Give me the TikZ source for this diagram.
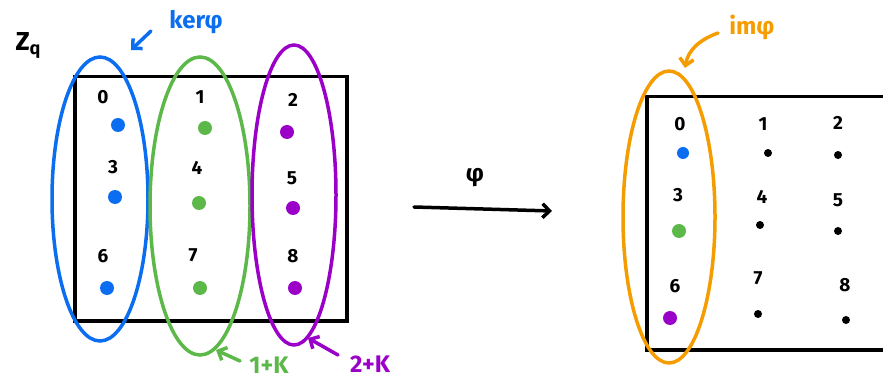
\documentclass[tikz,border=0pt]{standalone}
\usepackage{fontspec}
\setmainfont{Fira Sans}
\usetikzlibrary{arrows.meta,shapes.geometric}
\definecolor{cblue}{HTML}{0B6EF0}
\definecolor{cgreen}{HTML}{5CB848}
\definecolor{cpurple}{HTML}{9B00C8}
\definecolor{corange}{HTML}{F59C00}
\begin{document}
\begin{tikzpicture}[x=1pt,y=-1pt,
  num/.style={font=\fontsize{19}{19}\selectfont\bfseries, inner sep=0pt},
  lab/.style={font=\fontsize{24}{24}\selectfont\bfseries, inner sep=0pt},
  dotb/.style={circle, fill=#1, inner sep=0pt, minimum size=14pt},
  dots/.style={circle, fill=black, inner sep=0pt, minimum size=8pt},
  ring/.style={draw=#1, line width=3.5pt, ellipse, inner sep=0pt},
  box/.style={draw=black, line width=3.5pt},
  pointer/.style={line width=3.5pt, -{Straight Barb[length=7pt,width=14pt]}, line cap=round}]
\useasboundingbox (0,0) rectangle (883,379);
% left box
\node[box, minimum width=272pt, minimum height=244pt, anchor=north west] (L) at (73,75) {};
% right box
\node[box, minimum width=260pt, minimum height=253pt, anchor=north west] (R) at (645,95) {};
% left numbers
\node[num] (n0) at (103,97) {0};
\node[num] (n1) at (200,97) {1};
\node[num] (n2) at (293,100) {2};
\node[num] (n3) at (113,167) {3};
\node[num] (n4) at (197,168) {4};
\node[num] (n5) at (292,178) {5};
\node[num] (n6) at (103,256) {6};
\node[num] (n7) at (193,255) {7};
\node[num] (n8) at (293,256) {8};
\node[dotb=cblue] (d0) at (118,125) {};
\node[dotb=cgreen] (d1) at (205,128) {};
\node[dotb=cpurple] (d2) at (287,132) {};
\node[dotb=cblue] (d3) at (115,197) {};
\node[dotb=cgreen] (d4) at (199,203) {};
\node[dotb=cpurple] (d5) at (293,208) {};
\node[dotb=cblue] (d6) at (107,288) {};
\node[dotb=cgreen] (d7) at (200,288) {};
\node[dotb=cpurple] (d8) at (295,288) {};
% ellipses
\node[ring=cblue, minimum width=96pt, minimum height=284pt] (eb) at (100,199) {};
\node[ring=cgreen, minimum width=100pt, minimum height=298pt] (eg) at (200,206) {};
\node[ring=cpurple, minimum width=84pt, minimum height=300pt] (ep) at (294,195) {};
% labels left
\node[lab, font=\fontsize{26}{26}\selectfont\bfseries] (zq) at (28,45) {Z\raisebox{-4pt}{\fontsize{18}{18}\selectfont q}};
\node[lab, text=cblue] (ker) at (196,22) {kerφ};
\coordinate (kerA) at (151,31);
\coordinate (kerB) at (131,50);
\draw[pointer, cblue] (kerA) -- (kerB);
\node[lab, text=cgreen] (k1) at (269,365) {1+K};
\coordinate (k1A) at (240,361);
\coordinate (k1B) at (216,350);
\draw[pointer, cgreen] (k1A) -- (k1B);
\node[lab, text=cpurple] (k2) at (370,364) {2+K};
\coordinate (k2A) at (338,355);
\coordinate (k2B) at (308,338);
\draw[pointer, cpurple] (k2A) -- (k2B);
% map arrow
\coordinate (mA) at (414,207);
\coordinate (mB) at (552,211);
\draw[pointer, black] (mA) -- (mB);
\node[lab] (phi) at (475,178) {φ};
% right numbers
\node[num] (r0) at (680,124) {0};
\node[num] (r1) at (763,124) {1};
\node[num] (r2) at (838,123) {2};
\node[num] (r3) at (678,195) {3};
\node[num] (r4) at (762,197) {4};
\node[num] (r5) at (838,200) {5};
\node[num] (r6) at (675,286) {6};
\node[num] (r7) at (758,278) {7};
\node[num] (r8) at (845,285) {8};
\node[dotb=cblue, minimum size=12pt] (s0) at (683,153) {};
\node[dots] (s1) at (768,153) {};
\node[dots] (s2) at (838,155) {};
\node[dotb=cgreen] (s3) at (679,231) {};
\node[dots] (s4) at (760,225) {};
\node[dots] (s5) at (838,231) {};
\node[dotb=cpurple] (s6) at (670,318) {};
\node[dots] (s7) at (758,314) {};
\node[dots] (s8) at (846,320) {};
\node[ring=corange, minimum width=92pt, minimum height=292pt] (eo) at (669,217) {};
\node[lab, text=corange] (im) at (752,27) {imφ};
\coordinate (imA) at (718,33);
\coordinate (imB) at (685,68);
\draw[pointer, corange] (imA) to[out=200, in=80] (imB);
\end{tikzpicture}
\end{document}
